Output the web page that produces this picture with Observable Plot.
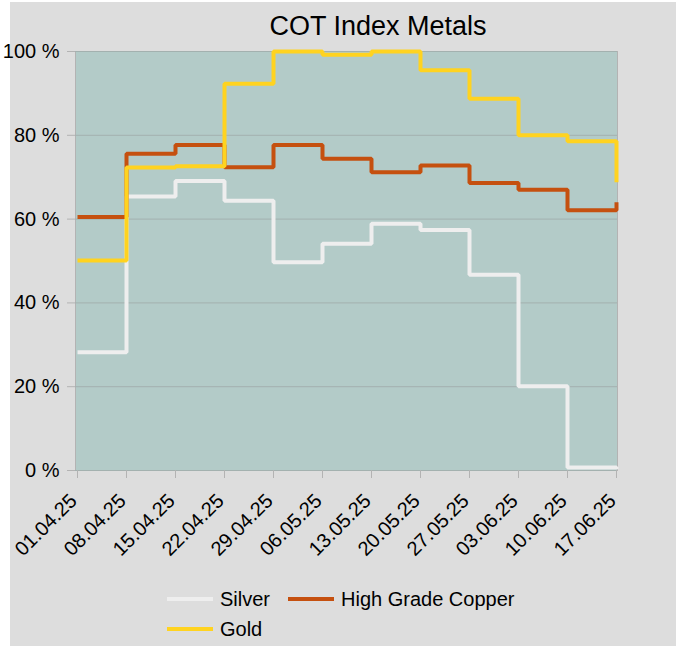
<!DOCTYPE html>
<html>
<head>
<meta charset="utf-8">
<script src="https://cdn.jsdelivr.net/npm/d3@7"></script>
<script src="https://cdn.jsdelivr.net/npm/@observablehq/plot@0.6"></script>
<style>
  html, body { margin: 0; padding: 0; background: #ffffff; }
  body { width: 680px; height: 649px; position: relative; overflow: hidden; font-family: "Liberation Sans", Arial, sans-serif; }
  #bg { position: absolute; left: 10px; top: 2px; width: 666px; height: 644px; background: #dddddd; }
  #chart { position: absolute; left: 0; top: 0; }
  #title { position: absolute; top: 13px; left: 378px; transform: translateX(-50%); font-size: 27px; line-height: 1; color: #000; white-space: nowrap; }
  .sw { position: absolute; width: 46px; height: 4px; }
  .lt { position: absolute; font-size: 20px; line-height: 1; color: #000; white-space: nowrap; }
</style>
</head>
<body>
<div id="bg"></div>
<div id="chart"></div>
<div id="title">COT Index Metals</div>
<div id="legend"></div>
<script>
const dates = ["01.04.25","08.04.25","15.04.25","22.04.25","29.04.25","06.05.25","13.05.25","20.05.25","27.05.25","03.06.25","10.06.25","17.06.25"];
const silver = [28.2, 65.4, 69.1, 64.4, 49.7, 54.1, 58.9, 57.4, 46.7, 20.1, 0.7, 0.3];
const copper = [60.5, 75.6, 77.7, 72.4, 77.7, 74.4, 71.2, 72.8, 68.6, 67.0, 62.1, 64.0];
const gold   = [50.1, 72.3, 72.6, 92.3, 100, 99.2, 100, 95.5, 88.7, 80.0, 78.6, 68.8];
const seriesNames = ["Silver", "High Grade Copper", "Gold"];
const seriesColors = ["#eeeeee", "#c5500f", "#ffd320"];
const yTicks = [0, 20, 40, 60, 80, 100];

const seriesValues = [silver, copper, gold];
const rows = [];
seriesNames.forEach((name, s) => {
  dates.forEach((d, i) => rows.push({series: name, date: d, value: seriesValues[s][i]}));
});

const plot = Plot.plot({
  width: 680,
  height: 580,
  marginLeft: 75,
  marginRight: 63,
  marginTop: 51,
  marginBottom: 110,
  style: {background: "transparent", fontFamily: "Liberation Sans, Arial, sans-serif", color: "#000", overflow: "visible"},
  x: {type: "point", domain: dates, padding: 0, label: null},
  y: {domain: [0, 100], label: null},
  color: {domain: seriesNames, range: seriesColors},
  marks: [
    Plot.frame({fill: "#b3cbc8", stroke: "#b3b3b3"}),
    Plot.gridY(yTicks, {stroke: "#a3b1af", strokeOpacity: 1}),
    Plot.axisY({ticks: yTicks, tickFormat: d => d + " %", tickSize: 8, tickPadding: 8, fontSize: 20, stroke: "#b3b3b3", label: null}),
    Plot.axisX({tickSize: 8, tickFormat: () => "", stroke: "#b3b3b3", label: null}),
    Plot.axisX({tickRotate: -45, tickSize: 0, tickPadding: 23, fontSize: 20, label: null, dx: -4, dy: 4}),
    Plot.line(rows, {x: "date", y: "value", z: "series", stroke: "series", curve: "step-after", strokeWidth: 4, strokeLinejoin: "miter", strokeLinecap: "butt"})
  ]
});
plot.querySelectorAll("text").forEach(t => t.setAttribute("fill", "#000"));
document.getElementById("chart").appendChild(plot);

const legend = document.getElementById("legend");
const items = [
  {name: seriesNames[0], color: seriesColors[0], x: 167, y: 599},
  {name: seriesNames[1], color: seriesColors[1], x: 288, y: 599},
  {name: seriesNames[2], color: seriesColors[2], x: 167, y: 629}
];
items.forEach(it => {
  const sw = document.createElement("div");
  sw.className = "sw";
  sw.style.left = it.x + "px";
  sw.style.top = (it.y - 2) + "px";
  sw.style.background = it.color;
  legend.appendChild(sw);
  const lt = document.createElement("div");
  lt.className = "lt";
  lt.style.left = (it.x + 53) + "px";
  lt.style.top = (it.y - 10) + "px";
  lt.textContent = it.name;
  legend.appendChild(lt);
});
</script>
</body>
</html>
